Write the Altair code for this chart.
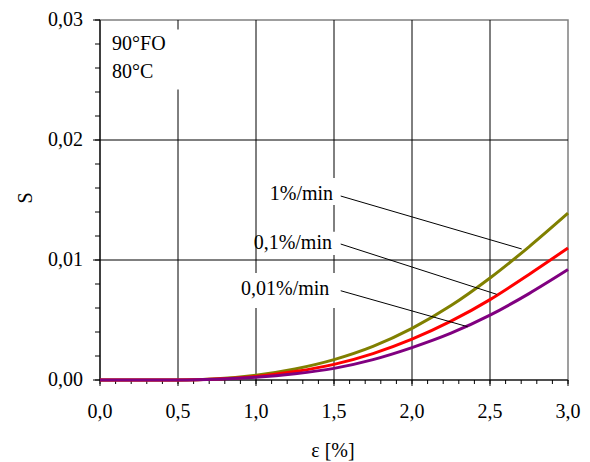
import altair as alt
import pandas as pd

# strain values [%]
eps = [0.0, 0.25, 0.5, 0.75, 1.0, 1.25, 1.5, 1.75, 2.0, 2.25, 2.5, 2.75, 3.0]
# S for each strain rate
s_1 = [0, 0, 0, 0.0001, 0.0004, 0.00092, 0.0017, 0.0028, 0.0043, 0.0062, 0.0085, 0.0111, 0.0139]
s_01 = [0, 0, 0, 0.00008, 0.0003, 0.0007, 0.0013, 0.0022, 0.0034, 0.0049, 0.0067, 0.0088, 0.0110]
s_001 = [0, 0, 0, 0.00006, 0.00022, 0.00052, 0.00097, 0.0017, 0.0027, 0.0039, 0.0054, 0.0072, 0.0092]

series_names = ["1%/min", "0,1%/min", "0,01%/min"]
series_colors = ["#808000", "#FF0000", "#800080"]

# annotation labels and leader lines (data units)
label_x = [1.494, 1.487, 1.470]
label_y = [0.0155, 0.01144, 0.00758]
lead_x1 = [1.543, 1.543, 1.543]
lead_y1 = [0.01533, 0.01133, 0.00744]
lead_x2 = [2.703, 2.543, 2.357]
lead_y2 = [0.01092, 0.00714, 0.00444]

# white backgrounds of text boxes (data units)
box_x1 = [0.04, 1.04, 1.01, 0.90]
box_x2 = [0.60, 1.52, 1.52, 1.52]
box_y1 = [0.0242, 0.01458, 0.01042, 0.0060]
box_y2 = [0.0292, 0.01683, 0.01236, 0.00892]

info_text = ["90°FO", "80°C"]
info_x = [0.077, 0.077]
info_y = [0.0280, 0.02567]

# axes
x_major = [0.0, 0.5, 1.0, 1.5, 2.0, 2.5, 3.0]
x_labels = ["0,0", "0,5", "1,0", "1,5", "2,0", "2,5", "3,0"]
x_minor = [round(i * 0.1, 1) for i in range(31)]
x_grid = [0.5, 1.0, 1.5, 2.0, 2.5]
y_major = [0.0, 0.01, 0.02, 0.03]
y_labels = ["0,00", "0,01", "0,02", "0,03"]
y_minor = [round(i * 0.002, 3) for i in range(16)]
y_grid = [0.01, 0.02]
x_title = "ε [%]"
y_title = "S"

FONT = "Liberation Serif"
W, H = 468, 360

rows = []
for name, vals in zip(series_names, [s_1, s_01, s_001]):
    for e, s in zip(eps, vals):
        rows.append({"eps": e, "S": s, "rate": name})
df = pd.DataFrame(rows)

xs = alt.Scale(domain=[0, 3], nice=False, zero=False)
ys = alt.Scale(domain=[0, 0.03], nice=False, zero=False)

# grid lines
vgrid = alt.Chart(pd.DataFrame({"g": x_grid})).mark_rule(color="black", strokeWidth=1).encode(
    x=alt.X("g:Q", scale=xs, axis=None)
)
hgrid = alt.Chart(pd.DataFrame({"g": y_grid})).mark_rule(color="black", strokeWidth=1).encode(
    y=alt.Y("g:Q", scale=ys, axis=None)
)

# axis lines
xdomain = alt.Chart(pd.DataFrame({"v": [0.0]})).mark_rule(color="black", strokeWidth=1.2).encode(
    y=alt.Y("v:Q", scale=ys, axis=None)
)
ydomain = alt.Chart(pd.DataFrame({"v": [0.0]})).mark_rule(color="black", strokeWidth=1.2).encode(
    x=alt.X("v:Q", scale=xs, axis=None)
)

# ticks
xminor = alt.Chart(pd.DataFrame({"t": x_minor})).mark_rule(color="black", strokeWidth=1).encode(
    x=alt.X("t:Q", scale=xs, axis=None), y=alt.value(H), y2=alt.value(H + 4)
)
xmajor = alt.Chart(pd.DataFrame({"t": x_major})).mark_rule(color="black", strokeWidth=1).encode(
    x=alt.X("t:Q", scale=xs, axis=None), y=alt.value(H), y2=alt.value(H + 6)
)
yminor = alt.Chart(pd.DataFrame({"t": y_minor})).mark_rule(color="black", strokeWidth=1).encode(
    y=alt.Y("t:Q", scale=ys, axis=None), x=alt.value(-5), x2=alt.value(0)
)
ymajor = alt.Chart(pd.DataFrame({"t": y_major})).mark_rule(color="black", strokeWidth=1).encode(
    y=alt.Y("t:Q", scale=ys, axis=None), x=alt.value(-7), x2=alt.value(0)
)

# tick labels and axis titles
xlab = alt.Chart(pd.DataFrame({"t": x_major, "s": x_labels})).mark_text(
    font=FONT, fontSize=20, color="black", align="center", baseline="alphabetic"
).encode(x=alt.X("t:Q", scale=xs, axis=None), y=alt.value(H + 38), text="s:N")
ylab = alt.Chart(pd.DataFrame({"t": y_major, "s": y_labels})).mark_text(
    font=FONT, fontSize=20, color="black", align="right", baseline="middle"
).encode(y=alt.Y("t:Q", scale=ys, axis=None), x=alt.value(-17), text="s:N")
xtitle = alt.Chart(pd.DataFrame({"s": [x_title]})).mark_text(
    font=FONT, fontSize=20, color="black", align="center", baseline="alphabetic"
).encode(x=alt.value(233), y=alt.value(H + 77), text="s:N")
ytitle = alt.Chart(pd.DataFrame({"s": [y_title]})).mark_text(
    font=FONT, fontSize=20, color="black", align="center", baseline="middle", angle=270
).encode(x=alt.value(-74), y=alt.value(178), text="s:N")

boxes = alt.Chart(pd.DataFrame({"x1": box_x1, "x2": box_x2, "y1": box_y1, "y2": box_y2})).mark_rect(
    fill="white"
).encode(
    x=alt.X("x1:Q", scale=xs, axis=None), x2="x2:Q",
    y=alt.Y("y1:Q", scale=ys, axis=None), y2="y2:Q",
)

base = alt.Chart(df)
line_layers = []
for name, col in zip(series_names, series_colors):
    line_layers.append(
        base.transform_filter(alt.datum.rate == name).mark_line(
            color=col, strokeWidth=3, interpolate="monotone"
        ).encode(
            x=alt.X("eps:Q", scale=xs, axis=None),
            y=alt.Y("S:Q", scale=ys, axis=None),
        )
    )

leaders = alt.Chart(pd.DataFrame({"x1": lead_x1, "y1": lead_y1, "x2": lead_x2, "y2": lead_y2})).mark_rule(
    color="black", strokeWidth=1
).encode(
    x=alt.X("x1:Q", scale=xs, axis=None), y=alt.Y("y1:Q", scale=ys, axis=None),
    x2="x2:Q", y2="y2:Q"
)

labels = alt.Chart(pd.DataFrame({"x": label_x, "y": label_y, "t": series_names})).mark_text(
    align="right", baseline="middle", font=FONT, fontSize=20, color="black"
).encode(x=alt.X("x:Q", scale=xs, axis=None), y=alt.Y("y:Q", scale=ys, axis=None), text="t:N")

info = alt.Chart(pd.DataFrame({"x": info_x, "y": info_y, "t": info_text})).mark_text(
    align="left", baseline="middle", font=FONT, fontSize=20, color="black"
).encode(x=alt.X("x:Q", scale=xs, axis=None), y=alt.Y("y:Q", scale=ys, axis=None), text="t:N")

chart = alt.layer(
    vgrid, hgrid, boxes, xdomain, ydomain, xminor, xmajor, yminor, ymajor,
    xlab, ylab, xtitle, ytitle, *line_layers, leaders, labels, info
).properties(
    width=W, height=H,
    autosize=alt.AutoSizeParams(type="none"),
    padding={"left": 100, "top": 20, "right": 22, "bottom": 82},
    background="white",
).configure_view(
    stroke="#808080", strokeWidth=1.5
)

chart.save("out.html", embed_options={"renderer": "svg", "actions": False})
